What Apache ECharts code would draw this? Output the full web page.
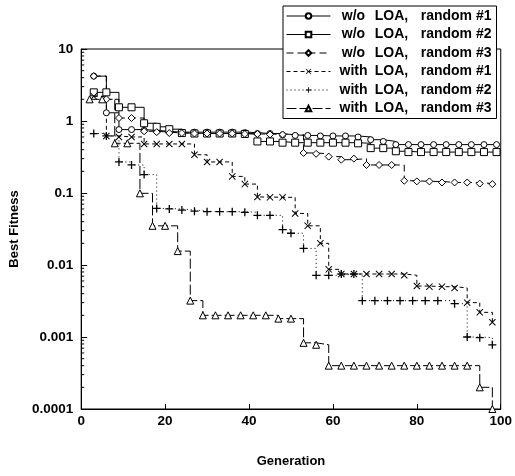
<!DOCTYPE html>
<html>
<head>
<meta charset="utf-8">
<script src="https://cdn.jsdelivr.net/npm/echarts@6/dist/echarts.min.js"></script>
<style>
  html, body { margin: 0; padding: 0; background: #fff; }
  #main { width: 515px; height: 476px; }
</style>
</head>
<body>
<div id="main"></div>
<script>
// 数据：[代数, 最佳适应度]
const woLoa1 = [[3,4.2],[6,1.3],[9,0.76],[12,0.76],[15,0.74],[18,0.72],[21,0.7],[24,0.7],[27,0.7],[30,0.7],[33,0.7],[36,0.7],[39,0.69],[42,0.67],[45,0.67],[48,0.64],[51,0.63],[54,0.63],[57,0.62],[60,0.62],[63,0.62],[66,0.6],[69,0.55],[72,0.52],[75,0.47],[78,0.47],[81,0.47],[84,0.47],[87,0.47],[90,0.47],[93,0.47],[96,0.47],[99,0.47]];
const woLoa2 = [[3,2.5],[6,2.5],[9,1.55],[12,1.55],[15,0.93],[18,0.83],[21,0.77],[24,0.68],[27,0.67],[30,0.67],[33,0.67],[36,0.67],[39,0.66],[42,0.52],[45,0.52],[48,0.5],[51,0.5],[54,0.5],[57,0.5],[60,0.5],[63,0.5],[66,0.49],[69,0.42],[72,0.42],[75,0.38],[78,0.37],[81,0.37],[84,0.37],[87,0.37],[90,0.37],[93,0.37],[96,0.37],[99,0.37]];
const woLoa3 = [[3,4.2],[6,2.0],[9,1.1],[12,1.1],[15,0.72],[18,0.7],[21,0.68],[24,0.68],[27,0.67],[30,0.67],[33,0.67],[36,0.67],[39,0.66],[42,0.66],[45,0.65],[48,0.65],[53,0.36],[56,0.35],[59,0.32],[62,0.29],[65,0.3],[68,0.245],[71,0.245],[74,0.245],[77,0.148],[80,0.145],[83,0.145],[86,0.14],[89,0.14],[92,0.14],[95,0.135],[98,0.133]];
const withLoa1 = [[3,2.2],[6,0.62],[9,0.6],[12,0.6],[15,0.48],[18,0.48],[21,0.48],[24,0.48],[27,0.34],[30,0.27],[33,0.27],[36,0.17],[39,0.133],[42,0.088],[45,0.087],[48,0.087],[51,0.052],[54,0.035],[57,0.02],[59,0.0087],[62,0.0075],[65,0.0075],[68,0.0075],[71,0.0075],[74,0.0075],[77,0.0072],[80,0.0051],[83,0.005],[86,0.005],[89,0.0048],[92,0.003],[95,0.0022],[98,0.0016]];
const withLoa2 = [[3,0.67],[6,0.62],[9,0.27],[12,0.245],[15,0.18],[18,0.061],[21,0.06],[24,0.058],[27,0.056],[30,0.055],[33,0.055],[36,0.055],[39,0.054],[42,0.049],[45,0.049],[48,0.031],[50,0.0276],[53,0.017],[56,0.0072],[59,0.0072],[62,0.0075],[65,0.0075],[67,0.0032],[70,0.0032],[73,0.0032],[76,0.0032],[79,0.0032],[82,0.0032],[85,0.0032],[89,0.0029],[92,0.001],[95,0.00098],[98,0.00078]];
const withLoa3 = [[2,2.0],[5,2.0],[8,0.49],[11,0.49],[14,0.099],[17,0.035],[20,0.035],[23,0.0156],[26,0.0032],[29,0.002],[32,0.002],[35,0.002],[38,0.002],[41,0.002],[44,0.002],[47,0.0018],[50,0.0018],[53,0.00083],[56,0.00078],[59,0.0004],[62,0.0004],[65,0.0004],[68,0.0004],[71,0.0004],[74,0.0004],[77,0.0004],[80,0.0004],[83,0.0004],[86,0.0004],[89,0.0004],[92,0.0004],[95,0.0002],[98,0.0001]];

const seriesNames = ['w/o LOA, random #1','w/o LOA, random #2','w/o LOA, random #3','with LOA, random #1','with LOA, random #2','with LOA, random #3'];
const yTickLabels = ['0.0001','0.001','0.01','0.1','1','10'];
const xTicks = [0, 20, 40, 60, 80, 100];
const decades = [0.0001, 0.001, 0.01, 0.1, 1];
const mantissas = [2, 3, 4, 5, 6, 7, 8, 9];

const FONT = '"Liberation Sans", Arial, sans-serif';
const X_PATH = 'path://M0,1L1,0L5,4L9,0L10,1L6,5L10,9L9,10L5,6L1,10L0,9L4,5Z';
const PLUS_PATH = 'path://M4.2,0H5.8V4.2H10V5.8H5.8V10H4.2V5.8H0V4.2H4.2Z';

// 对数轴的次刻度
const minorTicks = [];
decades.forEach(d => mantissas.forEach(m => minorTicks.push([0, d * m])));

function lineSeries(name, data, symbol, size, dash, fill) {
  return {
    name: name,
    type: 'line',
    data: data,
    step: 'end',
    symbol: symbol,
    symbolSize: size,
    showSymbol: true,
    lineStyle: { color: '#000', width: 1, type: dash },
    itemStyle: { color: fill, borderColor: '#000', borderWidth: fill === '#000' ? 0 : 1 },
    emphasis: { disabled: true },
    animation: false
  };
}

const chart = echarts.init(document.getElementById('main'));
const richText = { fontFamily: FONT, fontWeight: 'bold', fontSize: 14, color: '#000' };

chart.setOption({
  backgroundColor: '#fff',
  animation: false,
  grid: { left: 80, right: 12, top: 49, bottom: 67, show: true, borderColor: '#000', borderWidth: 1, backgroundColor: 'transparent' },
  legend: {
    data: seriesNames,
    orient: 'vertical',
    left: 283,
    top: 6,
    backgroundColor: '#fff',
    borderColor: '#000',
    borderWidth: 1,
    borderRadius: 0,
    padding: [2, 5, 2, 3],
    itemGap: 2.5,
    itemWidth: 44,
    itemHeight: 7,
    selectedMode: false,
    lineStyle: { width: 1 },
    textStyle: {
      fontFamily: FONT, fontWeight: 'bold', fontSize: 14, color: '#000', lineHeight: 16,
      rich: {
        a: Object.assign({ width: 36, align: 'center' }, richText),
        b: Object.assign({ width: 40, align: 'center' }, richText),
        c: Object.assign({ width: 80, align: 'right' }, richText)
      }
    },
    formatter: function (name) {
      const m = name.match(/^(\S+)\s+(LOA,)\s+(.*)$/);
      return '{a|' + m[1] + '}{b|' + m[2] + '}{c|' + m[3] + '}';
    }
  },
  xAxis: {
    type: 'value',
    min: xTicks[0],
    max: xTicks[xTicks.length - 1],
    interval: 20,
    name: 'Generation',
    nameLocation: 'middle',
    nameGap: 46,
    nameTextStyle: { fontFamily: FONT, fontWeight: 'bold', fontSize: 13, color: '#000' },
    axisLine: { lineStyle: { color: '#000', width: 1 } },
    axisTick: { inside: true, length: 5, lineStyle: { color: '#000' } },
    axisLabel: { fontFamily: FONT, fontWeight: 'bold', fontSize: 13.5, color: '#000', margin: 5 },
    splitLine: { show: false }
  },
  yAxis: {
    type: 'log',
    logBase: 10,
    min: 0.0001,
    max: 10,
    name: 'Best Fitness',
    nameLocation: 'middle',
    nameGap: 60,
    nameTextStyle: { fontFamily: FONT, fontWeight: 'bold', fontSize: 13, color: '#000' },
    axisLine: { lineStyle: { color: '#000', width: 1 } },
    axisTick: { inside: true, length: 6, lineStyle: { color: '#000' } },
    axisLabel: {
      fontFamily: FONT, fontWeight: 'bold', fontSize: 13.5, color: '#000', margin: 8,
      formatter: function (v) { return yTickLabels[Math.round(Math.log10(v)) + 4]; }
    },
    splitLine: { show: false }
  },
  series: [
    lineSeries(seriesNames[0], woLoa1, 'circle', 6, 'solid', '#fff'),
    lineSeries(seriesNames[1], woLoa2, 'rect', 7, 'solid', '#fff'),
    lineSeries(seriesNames[2], woLoa3, 'diamond', 7, [7, 4], '#fff'),
    lineSeries(seriesNames[3], withLoa1, X_PATH, 7, [4, 3], '#000'),
    lineSeries(seriesNames[4], withLoa2, PLUS_PATH, 8, [1, 3], '#000'),
    lineSeries(seriesNames[5], withLoa3, 'triangle', 7, [10, 3], '#fff'),
    {
      // 次刻度
      type: 'custom',
      silent: true,
      data: minorTicks,
      renderItem: function (params, api) {
        const p = api.coord([0, api.value(1)]);
        return { type: 'line', shape: { x1: p[0], y1: p[1], x2: p[0] + 3, y2: p[1] }, style: { stroke: '#000', lineWidth: 1 } };
      },
      clip: false,
      animation: false
    }
  ]
});
</script>
</body>
</html>
